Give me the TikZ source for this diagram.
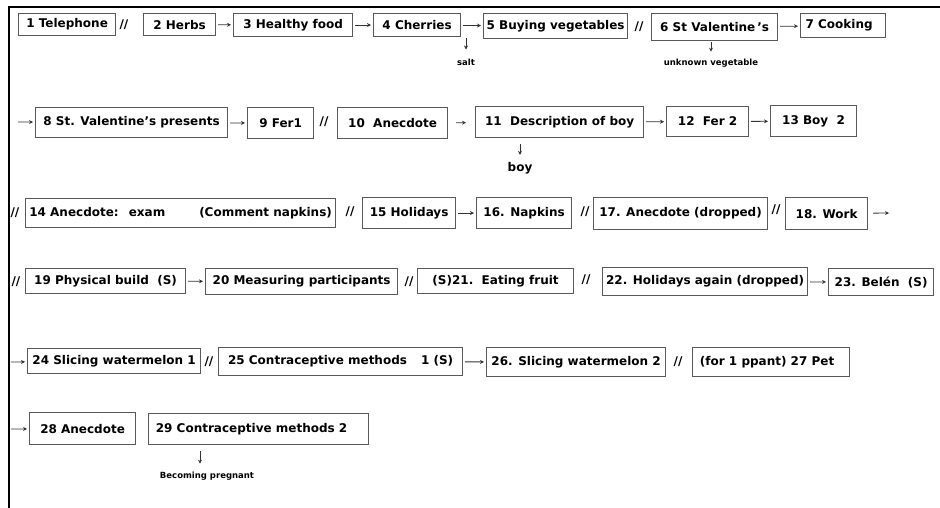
\documentclass[tikz,border=0pt]{standalone}
\usepackage{fontspec}
\setmainfont{DejaVu Sans}
\usetikzlibrary{arrows.meta}
\newcommand\mybx[6]{\node[box, anchor=north west, minimum width={(#4-#2)*1pt}, minimum height={(#5-#3)*1pt}] (#1) at (#2,#3) {#6};}
\begin{document}
\begin{tikzpicture}[x=1pt,y=-1pt,
 box/.style={draw=black!65, line width=1.2pt, inner sep=0pt, font=\bfseries\fontsize{12}{14}\selectfont},
 sep/.style={font=\bfseries\fontsize{12}{14}\selectfont, inner sep=0pt},
 lbl/.style={font=\bfseries\fontsize{8.5}{10}\selectfont, inner sep=0pt},
 lblbig/.style={font=\bfseries\fontsize{12}{14}\selectfont, inner sep=0pt},
 arr/.style={-{Stealth[length=4pt,width=4pt]}, line width=0.8pt, black!80, shorten >=2pt, shorten <=2pt},
 varr/.style={-{Stealth[length=4pt,width=4pt]}, line width=0.8pt, black!80},
]
\useasboundingbox (0,0) rectangle (940,508);
\fill[white] (0,0) rectangle (940,508);
\draw[line width=1.3pt] (9,508) -- (9,7) -- (940,7);

% row 1
\mybx{n1}{18}{13}{115}{35}{1 Telephone}
\mybx{n2}{143}{13}{215}{35}{2 Herbs}
\mybx{n3}{233}{13}{352}{36}{3 Healthy food}
\mybx{n4}{373}{13}{460}{36}{4 Cherries}
\mybx{n5}{483}{13}{627}{38}{5 Buying vegetables}
\mybx{n6}{651}{13}{777}{40}{6 St Valentine\,'s}
\mybx{n7}{800}{13}{885}{37}{7 Cooking\hspace*{8pt}}
\node[sep] (d12) at (124,25) {//};
\node[sep] (d56) at (639,27) {//};
\node[lbl] (salt) at (466,62) {salt};
\node[lbl] (uv) at (711,63) {unknown vegetable};

% row 2
\mybx{n8}{35}{107}{227}{137}{8 St. Valentine's presents}
\mybx{n9}{247}{107}{313}{138}{9 Fer1}
\mybx{n10}{337}{107}{447}{138}{10\ \ Anecdote}
\mybx{n11}{475}{106}{643}{137}{11\ \ Description of boy}
\mybx{n12}{666}{106}{748}{136}{12\ \ Fer 2}
\mybx{n13}{770}{105}{856}{136}{13 Boy\ \ 2}
\node[sep] (d910) at (324,122) {//};
\node[lblbig] (boy) at (520,168) {boy};
\coordinate (s2) at (16,122);

% row 3
\mybx{n14}{25}{198}{335}{227}{14 Anecdote:\hspace{10pt}exam\hspace{34pt}(Comment napkins)}
\mybx{n15}{362}{197}{455}{228}{15 Holidays}
\mybx{n16}{476}{197}{571}{228}{16. Napkins}
\mybx{n17}{593}{197}{767}{229}{17. Anecdote (dropped)}
\mybx{n18}{785}{197}{867}{229}{18. Work}
\node[sep] (d3s) at (15,213) {//};
\node[sep] (d1415) at (350,212) {//};
\node[sep] (d1617) at (585,212) {//};
\node[sep] (d1718) at (776,210) {//};
\coordinate (e18) at (889,213);

% row 4
\mybx{n19}{25}{268}{185}{293}{19 Physical build\ \ (S)}
\mybx{n20}{205}{268}{397}{294}{20 Measuring participants}
\mybx{n21}{417}{268}{573}{293}{(S)21.\ \ Eating fruit}
\mybx{n22}{602}{267}{807}{295}{22. Holidays again (dropped)}
\mybx{n23}{828}{268}{933}{295}{23. Belén\ \ (S)}
\node[sep] (d4s) at (16,282) {//};
\node[sep] (d2021) at (409,282) {//};
\node[sep] (d2122) at (586,280) {//};

% row 5
\mybx{n24}{27}{348}{200}{373}{24 Slicing watermelon 1}
\mybx{n25}{218}{347}{462}{375}{25 Contraceptive methods\hspace{14pt}1 (S)}
\mybx{n26}{486}{347}{665}{376}{26. Slicing watermelon 2}
\mybx{n27}{692}{347}{849}{376}{(for 1 ppant) 27 Pet\hspace*{8pt}}
\node[sep] (d2425) at (209,362) {//};
\node[sep] (d2627) at (678,362) {//};
\coordinate (s5) at (9,362);

% row 6
\mybx{n28}{29}{412}{135}{444}{28 Anecdote}
\mybx{n29}{148}{413}{368}{444}{29 Contraceptive methods 2\hspace*{14pt}}
\node[lbl] (bp) at (207,476) {Becoming pregnant};
\coordinate (s6) at (9,429);

% connectors
\draw[arr] (n2) -- (n3);
\draw[arr] (n3) -- (n4);
\draw[arr] (n4) -- (n5);
\draw[arr] (n6) -- (n7);
\draw[arr] (s2) -- (n8);
\draw[arr] (n8) -- (n9);
\draw[arr, shorten <=8pt, shorten >=9pt] (n10) -- (n11);
\draw[arr] (n11) -- (n12);
\draw[arr] (n12) -- (n13);
\draw[arr] (n15) -- (n16);
\draw[arr, shorten <=5pt, shorten >=0pt] (n18) -- (e18);
\draw[arr] (n19) -- (n20);
\draw[arr] (n22) -- (n23);
\draw[arr] (s5) -- (n24);
\draw[arr] (n25) -- (n26);
\draw[arr] (s6) -- (n28);

\draw[varr, shorten <=1pt, shorten >=9pt] (salt.north |- n4.south) -- (salt.north);
\draw[varr, shorten <=1pt, shorten >=7pt] (uv.north |- n6.south) -- (uv.north);
\draw[varr, shorten <=6pt, shorten >=7pt] (boy.north |- n11.south) -- (boy.north);
\draw[varr, shorten <=6pt, shorten >=8pt] (n29.south -| 200,0) -- (bp.north -| 200,0);
\end{tikzpicture}
\end{document}
